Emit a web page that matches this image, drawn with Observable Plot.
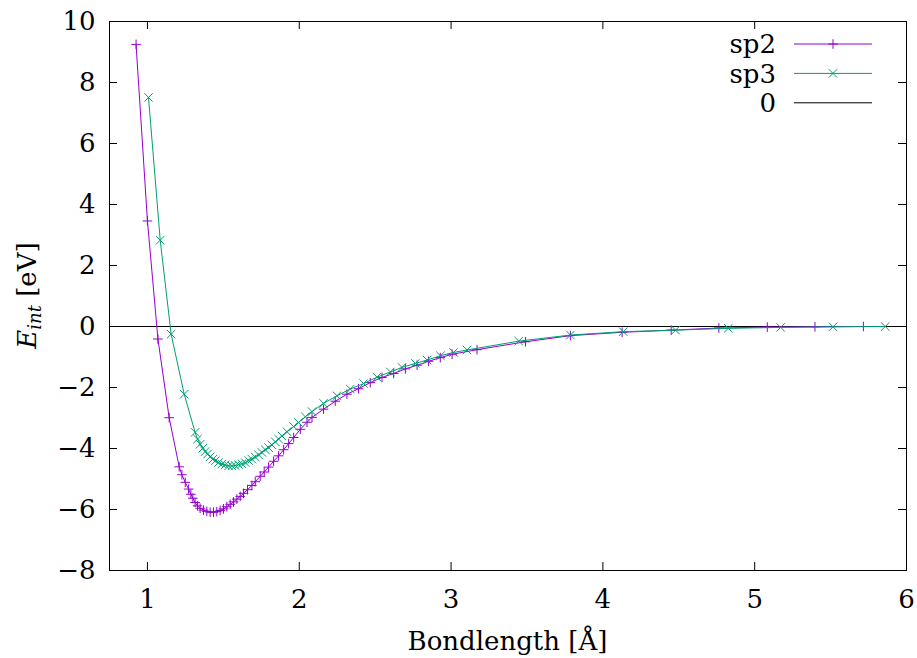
<!DOCTYPE html>
<html>
<head>
<meta charset="utf-8">
<script src="https://cdn.jsdelivr.net/npm/d3@7"></script>
<script src="https://cdn.jsdelivr.net/npm/@observablehq/plot@0.6"></script>
<style>
  html, body { margin: 0; padding: 0; background: #fff; }
  #chart svg { display: block; }
</style>
</head>
<body>
<div id="chart"></div>
<script>
// ---- data ----
const sp2X = [0.925, 1.000, 1.069, 1.143, 1.209, 1.227, 1.249, 1.271, 1.286, 1.299, 1.314, 1.330,
  1.347, 1.369, 1.391, 1.413, 1.435, 1.457, 1.479, 1.501, 1.523, 1.545, 1.567, 1.589,
  1.611, 1.633, 1.659, 1.688, 1.710, 1.743, 1.769, 1.798, 1.831, 1.864, 1.897, 1.930,
  1.963, 2.007, 2.051, 2.084, 2.160, 2.237, 2.314, 2.390, 2.468, 2.545, 2.622, 2.699,
  2.776, 2.852, 2.929, 3.007, 3.171, 3.490, 3.786, 4.127, 4.450, 4.764, 5.083, 5.397, 5.716];
const sp2Y = [9.25, 3.46, -0.41, -2.99, -4.60, -4.86, -5.11, -5.33, -5.50, -5.63, -5.77, -5.88,
  -5.96, -6.02, -6.06, -6.09, -6.09, -6.07, -6.03, -5.98, -5.91, -5.83, -5.75, -5.66,
  -5.57, -5.47, -5.35, -5.21, -5.09, -4.91, -4.77, -4.61, -4.42, -4.24, -4.04, -3.84,
  -3.64, -3.37, -3.14, -2.98, -2.71, -2.45, -2.22, -2.04, -1.84, -1.67, -1.54, -1.39,
  -1.27, -1.14, -1.02, -0.91, -0.76, -0.50, -0.30, -0.19, -0.12, -0.05, -0.02, -0.01, 0.00];

const sp3X = [1.007, 1.084, 1.156, 1.242, 1.314, 1.330, 1.347, 1.365, 1.380, 1.396,
  1.413, 1.431, 1.448, 1.468, 1.490, 1.512, 1.534, 1.556, 1.578, 1.600, 1.622, 1.644,
  1.666, 1.688, 1.710, 1.732, 1.754, 1.776, 1.798, 1.820, 1.842, 1.864, 1.886, 1.919,
  1.963, 1.995, 2.040, 2.084, 2.160, 2.248, 2.336, 2.424, 2.512, 2.600, 2.677, 2.765,
  2.842, 2.930, 3.017, 3.105, 3.446, 3.786, 4.134, 4.479, 4.826, 5.171, 5.516, 5.860];
const sp3Y = [7.51, 2.83, -0.25, -2.22, -3.47, -3.69, -3.86, -3.99, -4.10, -4.18,
  -4.27, -4.35, -4.40, -4.46, -4.51, -4.54, -4.57, -4.57, -4.56, -4.53, -4.50, -4.46,
  -4.40, -4.35, -4.28, -4.21, -4.13, -4.04, -3.97, -3.88, -3.78, -3.69, -3.59, -3.45,
  -3.28, -3.15, -2.96, -2.79, -2.52, -2.27, -2.05, -1.87, -1.66, -1.49, -1.34, -1.21,
  -1.10, -0.96, -0.85, -0.77, -0.48, -0.28, -0.17, -0.12, -0.06, -0.03, -0.01, 0.00];

const xTicks = [1, 2, 3, 4, 5, 6];
const yTicks = [-8, -6, -4, -2, 0, 2, 4, 6, 8, 10];
const seriesNames = ["sp2", "sp3", "0"];
const xLabel = "Bondlength [Å]";

// ---- build tables ----
const sp2 = sp2X.map((x, i) => ({x, y: sp2Y[i]}));
const sp3 = sp3X.map((x, i) => ({x, y: sp3Y[i]}));

const W = 917, H = 658, mL = 109, mR = 11, mT = 21, mB = 88;
const pw = W - mL - mR, ph = H - mT - mB;
const C2 = "#9400d3", C3 = "#009e73";
const FONT = "DejaVu Serif";
const FS = 26;
const RP = 3.2, RT = 3.9;
const fmt = d => d < 0 ? "\u2212" + (-d) : String(d);

const chart = Plot.plot({
  width: W, height: H,
  marginLeft: mL, marginRight: mR, marginTop: mT, marginBottom: mB,
  style: {fontFamily: FONT, fontSize: FS + "px", color: "black", background: "white"},
  x: {domain: [0.75, 6], ticks: xTicks},
  y: {domain: [-8, 10], ticks: yTicks},
  marks: [
    Plot.ruleY([0], {stroke: "black", strokeWidth: 1}),
    Plot.line(sp2, {x: "x", y: "y", stroke: C2, strokeWidth: 1}),
    Plot.dot(sp2, {x: "x", y: "y", symbol: "plus", r: RP, stroke: C2, strokeWidth: 1}),
    Plot.line(sp3, {x: "x", y: "y", stroke: C3, strokeWidth: 1}),
    Plot.dot(sp3, {x: "x", y: "y", symbol: "times", r: RT, stroke: C3, strokeWidth: 1}),
    // inward ticks on all four sides
    Plot.ruleX(xTicks, {insetTop: ph - 8, stroke: "black", strokeWidth: 1}),
    Plot.ruleX(xTicks, {insetBottom: ph - 8, stroke: "black", strokeWidth: 1}),
    Plot.ruleY(yTicks, {insetRight: pw - 8, stroke: "black", strokeWidth: 1}),
    Plot.ruleY(yTicks, {insetLeft: pw - 8, stroke: "black", strokeWidth: 1}),
    Plot.axisX({ticks: xTicks, tickSize: 0, tickPadding: 19, label: null, tickFormat: fmt}),
    Plot.axisY({ticks: yTicks, tickSize: 0, tickPadding: 14, label: null, tickFormat: fmt}),
    Plot.frame({stroke: "black", strokeWidth: 1})
  ]
});

document.getElementById("chart").appendChild(chart);

// ---- labels and legend ----
const svg = d3.select(chart);

// x label
svg.append("text")
  .attr("x", (mL + W - mR) / 2).attr("y", 650)
  .attr("text-anchor", "middle")
  .attr("font-family", FONT).attr("font-size", FS).attr("fill", "black")
  .text(xLabel);

// y label: E_int [eV]
const yl = svg.append("text")
  .attr("transform", `translate(36, ${(mT + H - mB) / 2}) rotate(-90)`)
  .attr("text-anchor", "middle")
  .attr("font-family", FONT).attr("font-size", FS).attr("fill", "black");
yl.append("tspan").attr("font-style", "italic").text("E");
yl.append("tspan").attr("font-style", "italic").attr("font-size", 18).attr("dy", 5).text("int");
yl.append("tspan").attr("dy", -5).text(" [eV]");

// legend
const legend = svg.append("g").attr("font-family", FONT).attr("font-size", FS);
const legColors = [C2, C3, "black"];
const legSymbols = [d3.symbolPlus, d3.symbolTimes, null];
const legR = [RP, RT, 0];
seriesNames.forEach((name, i) => {
  const y = 44 + i * 29.4;
  legend.append("text").attr("x", 776).attr("y", y).attr("dy", "0.35em")
    .attr("text-anchor", "end").attr("fill", "black").text(name);
  legend.append("line").attr("x1", 794).attr("x2", 872).attr("y1", y).attr("y2", y)
    .attr("stroke", legColors[i]).attr("stroke-width", 1);
  if (legSymbols[i]) {
    legend.append("path")
      .attr("d", d3.symbol(legSymbols[i], Math.PI * legR[i] * legR[i])())
      .attr("transform", `translate(833, ${y})`)
      .attr("fill", "none").attr("stroke", legColors[i]).attr("stroke-width", 1);
  }
});
</script>
</body>
</html>
